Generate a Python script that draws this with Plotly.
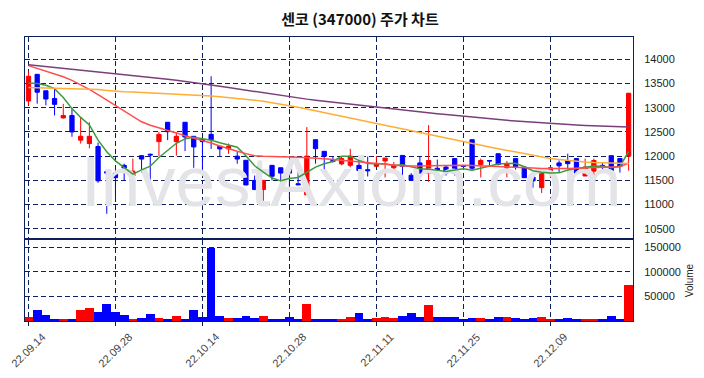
import plotly.graph_objects as go

dates = ["22.09.14","22.09.15","22.09.16","22.09.19","22.09.20","22.09.21","22.09.22","22.09.23","22.09.26","22.09.27",
         "22.09.28","22.09.29","22.09.30","22.10.04","22.10.05","22.10.06","22.10.07","22.10.11","22.10.12","22.10.13",
         "22.10.14","22.10.17","22.10.18","22.10.19","22.10.20","22.10.21","22.10.24","22.10.25","22.10.26","22.10.27",
         "22.10.28","22.10.31","22.11.01","22.11.02","22.11.03","22.11.04","22.11.07","22.11.08","22.11.09","22.11.10",
         "22.11.11","22.11.14","22.11.15","22.11.16","22.11.17","22.11.18","22.11.21","22.11.22","22.11.23","22.11.24",
         "22.11.25","22.11.28","22.11.29","22.11.30","22.12.01","22.12.02","22.12.05","22.12.06","22.12.07","22.12.08",
         "22.12.09","22.12.12","22.12.13","22.12.14","22.12.15","22.12.16","22.12.19","22.12.20","22.12.21","22.12.22"]

opens = [13140,13690,13350,13190,12790,12840,12330,12260,12200,11680,
         11650,11810,11590,12010,12040,12300,12700,12300,12700,12410,
         12340,12450,12205,12150,12000,11915,11500,11310,11810,11760,
         11760,11430,11200,12340,12100,11910,11840,11810,11810,11720,
         11790,11900,11760,12015,11605,11860,11650,11750,11775,11950,
         11800,12340,11825,11910,12050,11760,11950,11775,11570,11350,
         11650,11860,11910,11950,11590,11690,11810,12010,11950,12000]
highs = [13760,13690,13350,13390,13080,13000,12810,12700,12280,11690,
         11705,11845,11950,12015,12050,12500,12700,12500,12700,12410,
         12345,13650,12205,12260,12085,11915,11600,11500,11810,11760,
         11910,11910,12600,12340,12100,11990,12000,12150,11910,11990,
         12000,11960,11880,12015,11650,12000,12640,11930,11800,11950,
         11820,12340,11950,11915,12050,11900,11950,11775,11670,11680,
         11770,11910,12050,11950,11950,11950,11860,12010,11950,13300]
lows = [13050,13085,13050,12840,12775,12400,12260,12160,11450,10810,
        11155,11500,11445,11660,11500,12000,12330,12010,12105,11760,
        11720,12150,12000,12050,11845,11400,11300,10970,11500,11465,
        11120,11400,11200,11845,11710,11870,11810,11770,11330,11580,
        11790,11560,11705,11560,11500,11640,11470,11600,11600,11600,
        11780,11710,11560,11810,11810,11560,11720,11555,11350,11240,
        11560,11670,11660,11650,11590,11555,11720,11700,11660,11700]
closes = [13650,13320,13180,13070,12840,12500,12410,12410,11490,11650,
          11555,11755,11690,11940,12025,12450,12505,12410,12395,12190,
          12300,12340,12150,12200,11940,11405,11310,11500,11585,11650,
          11650,11410,12000,12155,12000,11890,11950,12000,11705,11700,
          11850,11960,11810,11790,11500,11650,11910,11710,11650,11650,
          11790,11750,11910,11900,11830,11845,11775,11555,11490,11670,
          11760,11800,11845,11650,11775,11910,11780,11700,11790,13300]
volumes = [8100,22300,12200,4000,4000,4000,22300,26400,18300,34500,
           18300,12200,4000,6100,14200,6100,4000,10100,4000,22300,
           8100,149400,10100,6100,6100,10100,6100,10100,2000,4000,
           8100,2000,34500,4000,2000,2000,4000,8100,16200,2000,
           6100,8100,6100,10100,16200,8100,32400,8100,8100,8100,
           2000,6100,6100,4000,8100,8100,6100,4000,6100,8100,
           4000,2000,6100,4000,4000,4000,4000,10100,2000,73000]

ma5 = [13510,13498,13463,13395,13212,12982,12800,12646,12330,12092,
       11903,11772,11628,11718,11793,11972,12122,12266,12357,12390,
       12360,12327,12275,12236,12186,12007,11801,11671,11548,11490,
       11539,11559,11659,11773,11843,11891,11999,11999,11909,11849,
       11841,11843,11805,11822,11782,11742,11732,11712,11684,11714,
       11742,11710,11750,11800,11836,11847,11852,11781,11699,11667,
       11650,11655,11713,11745,11766,11796,11792,11763,11791,12096]
ma20 = [13870,13815,13760,13705,13640,13565,13475,13380,13270,13160,
        13050,12930,12820,12710,12640,12590,12545,12480,12420,12370,
        12327,12270,12210,12150,12100,12052,12010,11996,11995,11990,
        11985,11975,11970,11960,11945,11930,11915,11900,11885,11870,
        11858,11840,11815,11795,11790,11795,11800,11805,11810,11810,
        11810,11805,11800,11790,11785,11780,11775,11765,11755,11745,
        11742,11742,11745,11750,11755,11762,11768,11772,11780,11858]
ma60 = [13420,13415,13410,13405,13400,13398,13395,13390,13375,13358,
        13340,13332,13324,13316,13308,13300,13290,13280,13270,13262,
        13256,13240,13225,13210,13195,13180,13157,13133,13105,13078,
        13050,13012,12974,12936,12898,12860,12822,12784,12746,12708,
        12671,12633,12595,12557,12519,12481,12443,12405,12367,12330,
        12300,12262,12225,12190,12155,12120,12085,12050,12015,11980,
        11950,11930,11910,11895,11880,11868,11860,11855,11852,11850]
ma120 = [13890,13872,13854,13836,13818,13800,13782,13764,13746,13728,
         13710,13690,13670,13650,13630,13610,13588,13566,13544,13522,
         13500,13472,13444,13416,13388,13360,13332,13304,13276,13248,
         13220,13199,13178,13157,13136,13115,13095,13075,13055,13035,
         13015,12995,12975,12955,12935,12915,12896,12877,12858,12839,
         12820,12804,12788,12772,12756,12740,12726,12712,12698,12684,
         12670,12661,12652,12643,12634,12625,12619,12613,12607,12600]

price_ticks = [10500, 11000, 11500, 12000, 12500, 13000, 13500, 14000]
vol_ticks = [50000, 100000, 150000]
tick_idx = [0, 10, 20, 30, 40, 50, 60]

idx = list(range(len(dates)))
NAVY = "#0a1f5c"
vol_colors = ["#ff0000" if c >= o else "#0000ff" for o, c in zip(opens, closes)]

fig = go.Figure()
fig.add_trace(go.Scatter(x=[37.1], y=[11330], mode="text", text=["InvestAxiom.com"],
                         textfont=dict(family="Liberation Sans, Arial", size=71, color="#e3e3e8"),
                         showlegend=False, hoverinfo="skip", xaxis="x", yaxis="y"))
fig.add_trace(go.Candlestick(x=idx, open=opens, high=highs, low=lows, close=closes,
                             increasing=dict(line=dict(color="#ff0000", width=1), fillcolor="#ff0000"),
                             decreasing=dict(line=dict(color="#0000ff", width=1), fillcolor="#0000ff"),
                             showlegend=False, xaxis="x", yaxis="y"))
for vals, col in [(ma5, "#3c9a3c"), (ma20, "#ff4d4d"), (ma60, "#ffad33"), (ma120, "#7a3f7a")]:
    fig.add_trace(go.Scatter(x=idx, y=vals, mode="lines", line=dict(color=col, width=1.5),
                             showlegend=False, xaxis="x", yaxis="y"))
fig.add_trace(go.Bar(x=idx, y=volumes, marker=dict(color=vol_colors, line=dict(width=0)),
                     showlegend=False, xaxis="x2", yaxis="y2"))

axis_common = dict(showline=True, linecolor=NAVY, linewidth=1, mirror=True, automargin=False,
                   showgrid=True, gridcolor=NAVY, gridwidth=1, griddash="5px,3px", zeroline=False)
font_lbl = dict(family="Liberation Sans, Arial", size=11, color="#222222")

for i in tick_idx:
    fig.add_annotation(x=i, y=0, xref="x2", yref="paper", text=dates[i], showarrow=False,
                       textangle=-45, xanchor="center", yanchor="top", yshift=-7,
                       font=dict(family="Liberation Sans, Arial", size=11, color="#444444"))

fig.update_layout(
    width=704, height=378,
    margin=dict(l=17, r=79, t=29, b=65, autoexpand=False),
    paper_bgcolor="white", plot_bgcolor="white",
    title=dict(text="<b>센코 (347000) 주가 차트</b>", x=0.5, xanchor="center", y=0.968, yanchor="middle",
               font=dict(family="Noto Sans CJK KR", size=15, color="#111111")),
    bargap=0,
    xaxis=dict(domain=[0, 1], anchor="y", range=[-0.4, 69.5], tickvals=tick_idx,
               showticklabels=False, rangeslider=dict(visible=False), **axis_common),
    xaxis2=dict(domain=[0, 1], anchor="y2", range=[-0.4, 69.5], matches="x", tickvals=tick_idx,
                showticklabels=False, ticks="outside", ticklen=4, tickcolor=NAVY,
                **axis_common),
    yaxis=dict(domain=[0.292, 1], anchor="x", side="right", range=[10308, 14461], tickvals=price_ticks,
               ticktext=[str(v) for v in price_ticks], ticks="", ticklabelstandoff=8,
               tickfont=font_lbl, **axis_common),
    yaxis2=dict(domain=[0, 0.285], anchor="x2", side="right", range=[0, 165000], tickvals=vol_ticks,
                ticktext=[str(v) for v in vol_ticks], ticks="", ticklabelstandoff=8,
                tickfont=font_lbl,
                title=dict(text="Volume", font=dict(family="Liberation Sans, Arial", size=10, color="#222222"),
                           standoff=6),
                **axis_common),
)

fig.write_html("out.html")
